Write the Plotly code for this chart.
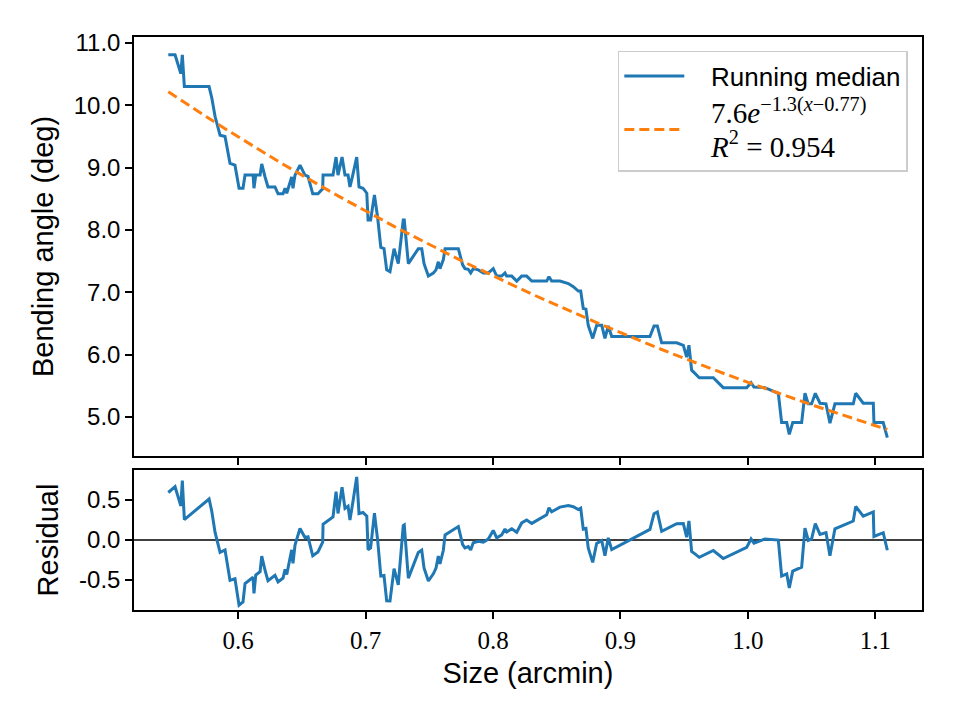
import numpy as np
import plotly.graph_objects as go

# Running median of bending angle vs size
size_arcmin = [
    0.5453, 0.5506, 0.5551, 0.5563, 0.5579, 0.5773, 0.5794, 0.5820, 0.5859, 0.5898,
    0.5937, 0.5976, 0.6008, 0.6039, 0.6055, 0.6118, 0.6125, 0.6139, 0.6173, 0.6186,
    0.6212, 0.6235, 0.6290, 0.6314, 0.6353, 0.6369, 0.6382, 0.6421, 0.6431, 0.6447,
    0.6486, 0.6525, 0.6549, 0.6586, 0.6627, 0.6664, 0.6667, 0.6745, 0.6769, 0.6784,
    0.6816, 0.6839, 0.6863, 0.6878, 0.6900, 0.6931, 0.6949, 0.6980, 0.7010, 0.7020,
    0.7040, 0.7070, 0.7095, 0.7120, 0.7145, 0.7166, 0.7192, 0.7224, 0.7257, 0.7296,
    0.7304, 0.7336, 0.7362, 0.7414, 0.7441, 0.7459, 0.7493, 0.7532, 0.7553, 0.7571,
    0.7584, 0.7610, 0.7624, 0.7728, 0.7762, 0.7780, 0.7806, 0.7825, 0.7845, 0.7885,
    0.7924, 0.7963, 0.8002, 0.8029, 0.8068, 0.8094, 0.8107, 0.8147, 0.8186, 0.8225,
    0.8264, 0.8304, 0.8421, 0.8439, 0.8460, 0.8525, 0.8591, 0.8630, 0.8669, 0.8688,
    0.8708, 0.8729, 0.8747, 0.8782, 0.8813, 0.8853, 0.8878, 0.8904, 0.8931, 0.9231,
    0.9263, 0.9289, 0.9323, 0.9441, 0.9493, 0.9519, 0.9537, 0.9558, 0.9584, 0.9618,
    0.9728, 0.9806, 0.9990, 1.0024, 1.0047, 1.0133, 1.0238, 1.0264, 1.0304, 1.0324,
    1.0351, 1.0421, 1.0447, 1.0473, 1.0499, 1.0528, 1.0565, 1.0612, 1.0643, 1.0682,
    1.0826, 1.0845, 1.0904, 1.0983, 1.0988, 1.1061, 1.1093,
]
bending_angle = [
    10.81, 10.81, 10.51, 10.81, 10.30, 10.30, 10.12, 9.82, 9.52, 9.50,
    9.07, 9.04, 8.67, 8.67, 8.88, 8.88, 8.67, 8.88, 8.88, 9.06,
    8.85, 8.69, 8.69, 8.58, 8.58, 8.67, 8.59, 8.85, 8.67, 8.88,
    9.04, 8.88, 8.86, 8.58, 8.58, 8.66, 8.88, 8.88, 9.17, 8.88,
    9.17, 8.88, 8.88, 8.69, 8.88, 9.17, 8.69, 8.67, 8.59, 8.16,
    8.16, 8.56, 8.20, 7.72, 7.70, 7.36, 7.33, 7.70, 7.46, 8.16,
    8.16, 7.46, 7.54, 7.70, 7.70, 7.46, 7.26, 7.31, 7.36, 7.49,
    7.38, 7.52, 7.70, 7.70, 7.44, 7.38, 7.37, 7.31, 7.38, 7.36,
    7.31, 7.31, 7.38, 7.26, 7.26, 7.31, 7.26, 7.26, 7.18, 7.26,
    7.26, 7.18, 7.18, 7.25, 7.18, 7.18, 7.14, 7.09, 7.02, 7.02,
    6.74, 6.73, 6.47, 6.26, 6.47, 6.47, 6.26, 6.46, 6.29, 6.29,
    6.46, 6.46, 6.19, 6.19, 6.15, 5.96, 6.15, 5.75, 5.70, 5.63,
    5.63, 5.47, 5.47, 5.55, 5.48, 5.47, 5.38, 4.91, 4.91, 4.72,
    4.91, 4.91, 5.38, 5.21, 5.21, 5.38, 5.22, 5.21, 4.90, 5.21,
    5.21, 5.38, 5.22, 5.22, 4.91, 4.91, 4.67,
]

# Exponential fit parameters
FIT_A = 7.56
FIT_B = 1.34
FIT_X0 = 0.77

x = np.array(size_arcmin)
y = np.array(bending_angle)
fit_y = FIT_A * np.exp(-FIT_B * (x - FIT_X0))
residual = y - fit_y

x_ticks = [0.6, 0.7, 0.8, 0.9, 1.0, 1.1]
y_ticks = [5.0, 6.0, 7.0, 8.0, 9.0, 10.0, 11.0]
res_ticks = [-0.5, 0.0, 0.5]
res_ticktext = ["-0.5", "0.0", "0.5"]

BLUE = "#1f77b4"
ORANGE = "#ff7f0e"
SANS = "Liberation Sans"
SERIF = "Liberation Serif"
PAD = "\u00a0\u00a0\u00a0"

fit_label = (
    f'<span style="font-family:{SERIF};font-size:29px">{PAD}7.6<i>e</i><sup>−1.3(<i>x</i>−0.77)</sup>'
    f'<br>{PAD}<i>R</i><sup>2</sup> = 0.954</span>'
)

fig = go.Figure()
fig.add_trace(go.Scatter(x=x, y=y, mode="lines", name=PAD + "Running median",
                         line=dict(color=BLUE, width=3), xaxis="x", yaxis="y"))
fig.add_trace(go.Scatter(x=x, y=fit_y, mode="lines", name=fit_label,
                         line=dict(color=ORANGE, width=3, dash="10px,5px"),
                         xaxis="x", yaxis="y"))
fig.add_trace(go.Scatter(x=x, y=residual, mode="lines", showlegend=False,
                         line=dict(color=BLUE, width=3), xaxis="x2", yaxis="y2"))

xr = [0.5184, 1.1365]
axis_common = dict(showline=True, linecolor="black", linewidth=1.5, mirror=True,
                   ticks="outside", ticklen=7, tickwidth=1.5, tickcolor="black",
                   showgrid=False, zeroline=False)

fig.update_layout(
    width=960, height=720,
    margin=dict(l=134, r=38, t=37, b=110),
    paper_bgcolor="white", plot_bgcolor="white",
    font=dict(family=SANS, size=24, color="black"),
    showlegend=True,
    legend=dict(x=0.982, y=0.9756, xanchor="right", yanchor="top",
                bordercolor="#cccccc", borderwidth=1.5, bgcolor="rgba(255,255,255,0.8)",
                font=dict(family=SANS, size=26), itemwidth=60,
                tracegroupgap=2),
    xaxis=dict(domain=[0, 1], range=xr, anchor="y", tickvals=x_ticks,
               showticklabels=False, **axis_common),
    yaxis=dict(domain=[0.2688, 1.0], range=[4.374, 11.096], anchor="x",
               tickvals=y_ticks, tickformat=".1f",
               title=dict(text="Bending angle (deg)", standoff=12), **axis_common),
    xaxis2=dict(domain=[0, 1], range=xr, anchor="y2", tickvals=x_ticks,
                tickformat=".1f", tickfont=dict(family=SERIF, size=25),
                title=dict(text="Size (arcmin)", standoff=10), **axis_common),
    yaxis2=dict(domain=[0, 0.2443], range=[-0.875, 0.875], anchor="x2",
                tickvals=res_ticks, ticktext=res_ticktext,
                title=dict(text="Residual", standoff=12), **axis_common),
    shapes=[dict(type="line", xref="x2 domain", yref="y2", x0=0, x1=1, y0=0, y1=0,
                 line=dict(color="black", width=1.5), layer="below")],
)

fig.write_html("out.html")
